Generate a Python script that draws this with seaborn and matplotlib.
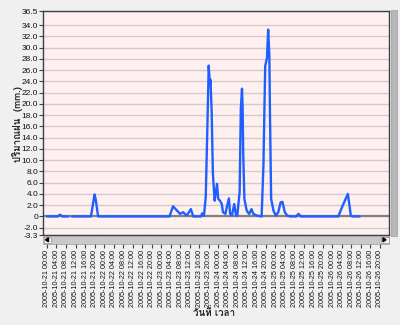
import numpy as np
import pandas as pd
import seaborn as sns
import matplotlib
matplotlib.use("Agg")
import matplotlib.pyplot as plt
from matplotlib.patches import Rectangle, Polygon
from matplotlib import font_manager
from matplotlib.ft2font import FT2Font

# ---------------- data ----------------
segment_a_times = ["2005-10-21 00:00", "2005-10-21 04:30", "2005-10-21 05:30",
                   "2005-10-21 06:30", "2005-10-21 09:00"]
segment_a_values = [0, 0, 0.3, 0, 0]

segment_b_times = [
    "2005-10-21 10:30", "2005-10-21 18:30", "2005-10-21 20:00", "2005-10-21 20:30",
    "2005-10-21 21:00", "2005-10-21 21:30",
    "2005-10-23 03:30", "2005-10-23 05:00", "2005-10-23 06:45", "2005-10-23 08:00",
    "2005-10-23 09:15", "2005-10-23 10:45", "2005-10-23 12:30", "2005-10-23 13:30",
    "2005-10-23 16:45", "2005-10-23 17:15", "2005-10-23 18:00", "2005-10-23 18:45",
    "2005-10-23 19:30", "2005-10-23 20:00", "2005-10-23 20:30", "2005-10-23 20:45",
    "2005-10-23 21:15", "2005-10-23 21:45", "2005-10-23 22:15", "2005-10-23 22:30",
    "2005-10-23 23:30", "2005-10-24 00:00", "2005-10-24 00:45", "2005-10-24 01:30",
    "2005-10-24 02:00", "2005-10-24 03:00", "2005-10-24 03:45", "2005-10-24 04:30",
    "2005-10-24 05:00", "2005-10-24 05:45", "2005-10-24 06:45", "2005-10-24 07:30",
    "2005-10-24 08:00", "2005-10-24 09:00", "2005-10-24 09:30", "2005-10-24 10:00",
    "2005-10-24 10:15", "2005-10-24 10:30", "2005-10-24 11:00", "2005-10-24 12:00",
    "2005-10-24 13:00", "2005-10-24 14:00", "2005-10-24 14:45", "2005-10-24 16:15",
    "2005-10-24 18:15", "2005-10-24 19:00", "2005-10-24 19:45", "2005-10-24 20:30",
    "2005-10-24 21:00", "2005-10-24 21:30", "2005-10-24 21:45", "2005-10-24 22:15",
    "2005-10-24 23:15", "2005-10-25 00:15", "2005-10-25 01:15", "2005-10-25 02:15",
    "2005-10-25 03:00", "2005-10-25 04:00", "2005-10-25 05:00", "2005-10-25 06:15",
    "2005-10-25 08:45", "2005-10-25 09:45", "2005-10-25 10:45", "2005-10-26 02:30",
    "2005-10-26 04:00", "2005-10-26 05:15", "2005-10-26 06:30", "2005-10-26 07:00",
    "2005-10-26 07:45", "2005-10-26 08:30", "2005-10-26 11:30",
]
segment_b_values = [
    0, 0, 3.9, 3.0,
    1.5, 0,
    0, 1.8, 1.0, 0.45,
    0.75, 0.15, 1.3, 0,
    0, 0.55, 0.1, 3.4,
    17.0, 26.8, 23.5, 24.3,
    18.5, 7.8, 4.3, 2.8,
    5.8, 3.1, 2.8, 2.2,
    0.75, 0.45, 1.9, 3.2,
    0.45, 0.15, 2.2, 0.15,
    0.15, 4.3, 19.1, 22.7,
    19.5, 11.4, 3.1, 1.0,
    0.45, 1.3, 0.45, 0.15,
    0, 9.0, 26.7, 28.2,
    33.2, 28.5, 18.5, 3.1,
    1.0, 0.15, 0.75, 2.5,
    2.6, 0.75, 0.15, 0,
    0, 0.45, 0, 0,
    1.6, 2.8, 4.0, 2.5,
    0.15, 0, 0,
]

y_tick_values = [-3.3, -2.0, 0, 2.0, 4.0, 6.0, 8.0, 10.0, 12.0, 14.0, 16.0, 18.0,
                 20.0, 22.0, 24.0, 26.0, 28.0, 30.0, 32.0, 34.0, 36.5]
y_tick_labels = ["-3.3", "-2.0", "0", "2.0", "4.0", "6.0", "8.0", "10.0", "12.0",
                 "14.0", "16.0", "18.0", "20.0", "22.0", "24.0", "26.0", "28.0",
                 "30.0", "32.0", "34.0", "36.5"]
x_tick_times = pd.date_range("2005-10-21 00:00", "2005-10-26 20:00", freq="4h")
x_tick_labels = [t.strftime("%Y-%m-%d %H:%M") for t in x_tick_times]

y_label = "ปริมาณฝน  (mm.)"
x_label = "วันที่ เวลา"

# ---------------- fonts ----------------
thai_family = None
for f in font_manager.fontManager.ttflist:
    try:
        if ord("ป") in FT2Font(f.fname).get_charmap():
            thai_family = f.name
            break
    except Exception:
        pass
names = {f.name for f in font_manager.fontManager.ttflist}
if "Liberation Sans Narrow" in names:
    tick_family, xtick_size = "Liberation Sans Narrow", 6.2
else:
    tick_family, xtick_size = "Liberation Sans", 5.2

df = pd.concat([
    pd.DataFrame({"time": pd.to_datetime(segment_a_times), "value": segment_a_values, "seg": 0}),
    pd.DataFrame({"time": pd.to_datetime(segment_b_times), "value": segment_b_values, "seg": 1}),
], ignore_index=True)

sns.set_style("white")
plt.rcParams["font.family"] = ["Liberation Sans", "DejaVu Sans"]

W, H = 400, 325
fig = plt.figure(figsize=(4.0, 3.25), dpi=100, facecolor="#F0F0F0")
ax = fig.add_axes([43 / W, 1 - 235 / H, (389 - 43) / W, (235 - 11) / H])
ax.set_facecolor("#FFF0F0")

for v in y_tick_values:
    ax.axhline(v, color="#D4CCCC", lw=1.0, zorder=1)
ax.axhline(0, color="#808080", lw=1.6, zorder=2)

sns.lineplot(data=df, x="time", y="value", units="seg", estimator=None,
             color="#1F5FFF", lw=1.7, ax=ax, zorder=3, legend=False)

ax.set_ylim(-3.3, 36.5)
x0 = pd.Timestamp("2005-10-21 00:00")
ax.set_xlim(x0 - pd.Timedelta(minutes=100), x0 + pd.Timedelta(hours=143.8))

ax.set_yticks(y_tick_values)
ax.set_yticklabels(y_tick_labels, family=["Liberation Sans", "DejaVu Sans"])
ax.set_xticks(x_tick_times)
ax.set_xticklabels(x_tick_labels, rotation=90, family=[tick_family, "DejaVu Sans"])
ax.tick_params(axis="y", direction="out", length=3, width=0.8, color="#404040",
               labelsize=6, pad=0.5, labelcolor="#111111")
ax.tick_params(axis="x", direction="out", length=9.3, width=0.8, color="#404040",
               labelsize=xtick_size, pad=1.5, labelcolor="#111111")
ax.tick_params(left=True, bottom=True)
for s in ax.spines.values():
    s.set_color("#404040")
    s.set_linewidth(1.0)

lab_family = [thai_family, "DejaVu Sans"] if thai_family else ["DejaVu Sans"]
ax.set_ylabel(y_label, fontsize=7, fontweight="bold", family=lab_family)
ax.yaxis.set_label_coords((23 - 43) / 346, (235 - 124) / 224)
ax.set_xlabel("")
fig.text(214 / W, 1 - 313 / H, x_label, fontsize=7, fontweight="bold",
         family=lab_family, ha="center", va="center")

# scrollbars (decorative)
def px_rect(x1, y1, x2, y2, fc, ec=None, z=5):
    r = Rectangle((x1 / W, 1 - y2 / H), (x2 - x1) / W, (y2 - y1) / H,
                  transform=fig.transFigure, facecolor=fc,
                  edgecolor=ec if ec else fc, lw=0.5, zorder=z)
    fig.add_artist(r)

px_rect(43, 236, 389, 243.5, "#C8C8C8", "#A0A0A0")
px_rect(43.5, 236.5, 51, 243, "#F4F4F4", "#909090", z=6)
px_rect(381, 236.5, 388.5, 243, "#F4F4F4", "#909090", z=6)
fig.add_artist(Polygon([[45.5 / W, 1 - 239.8 / H], [48.5 / W, 1 - 237.8 / H], [48.5 / W, 1 - 241.8 / H]],
                       closed=True, transform=fig.transFigure, color="black", zorder=7))
fig.add_artist(Polygon([[386 / W, 1 - 239.8 / H], [383 / W, 1 - 237.8 / H], [383 / W, 1 - 241.8 / H]],
                       closed=True, transform=fig.transFigure, color="black", zorder=7))
px_rect(391, 10, 397, 236, "#B8B8B8", "#A0A0A0")

fig.savefig("out.png", dpi=100, facecolor=fig.get_facecolor())
